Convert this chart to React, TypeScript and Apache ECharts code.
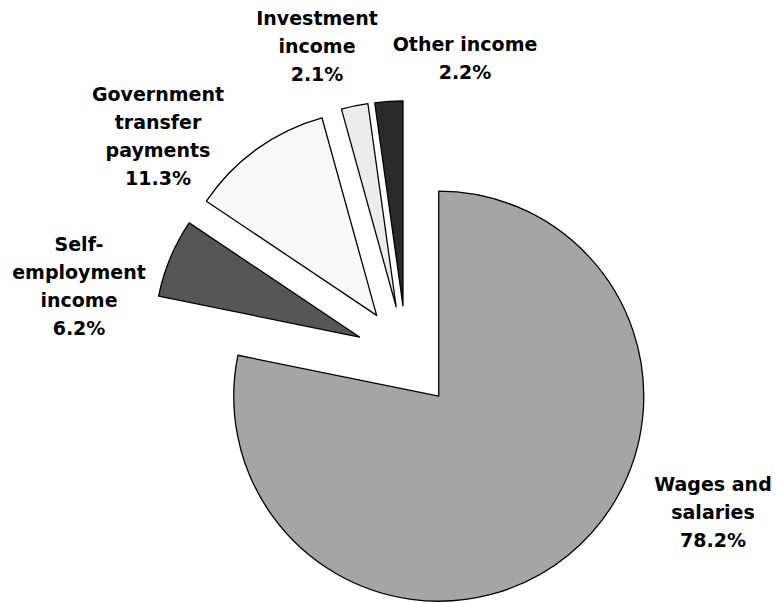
import React, { useEffect, useRef } from "react";
import * as echarts from "echarts";

const categories = [
  "Wages and\nsalaries",
  "Self-\nemployment\nincome",
  "Government\ntransfer\npayments",
  "Investment\nincome",
  "Other income",
];
const shares = [78.2, 6.2, 11.3, 2.1, 2.2];
const sliceColors = ["#a5a5a5", "#565656", "#f8f8f8", "#ececec", "#2a2a2a"];
const labelCenters: [number, number][] = [
  [713, 512],
  [79, 286],
  [158, 136],
  [317, 46],
  [465, 58],
];

export default function App() {
  const ref = useRef<HTMLDivElement>(null);
  useEffect(() => {
    if (!ref.current) return;
    const chart = echarts.init(ref.current, undefined, { renderer: "svg" });
    const data = categories.map((name, i) => {
      const style = { color: sliceColors[i], borderColor: "#000", borderWidth: 1.3 };
      return {
        name,
        value: shares[i],
        selected: true,
        itemStyle: style,
        select: { itemStyle: style },
      };
    });
    const labels = categories.map((name, i) => ({
      type: "text",
      x: labelCenters[i][0],
      y: labelCenters[i][1],
      silent: true,
      style: {
        text: `${name}\n${shares[i].toFixed(1)}%`,
        font: 'bold 19px "DejaVu Sans"',
        lineHeight: 28,
        fill: "#000",
        align: "center",
        verticalAlign: "middle",
        textAlign: "center",
        textVerticalAlign: "middle",
      },
    }));
    chart.setOption({
      animation: false,
      backgroundColor: "#ffffff",
      graphic: labels,
      series: [
        {
          type: "pie",
          center: [406.5, 356.7],
          radius: 205,
          startAngle: 90,
          clockwise: true,
          selectedMode: "multiple",
          selectedOffset: 51,
          emphasis: { disabled: true },
          data,
          label: { show: false },
          labelLine: { show: false },
        },
      ],
    });
    return () => chart.dispose();
  }, []);
  return (
    <div
      ref={ref}
      style={{ position: "fixed", left: 0, top: 0, width: 776, height: 602 }}
    />
  );
}
